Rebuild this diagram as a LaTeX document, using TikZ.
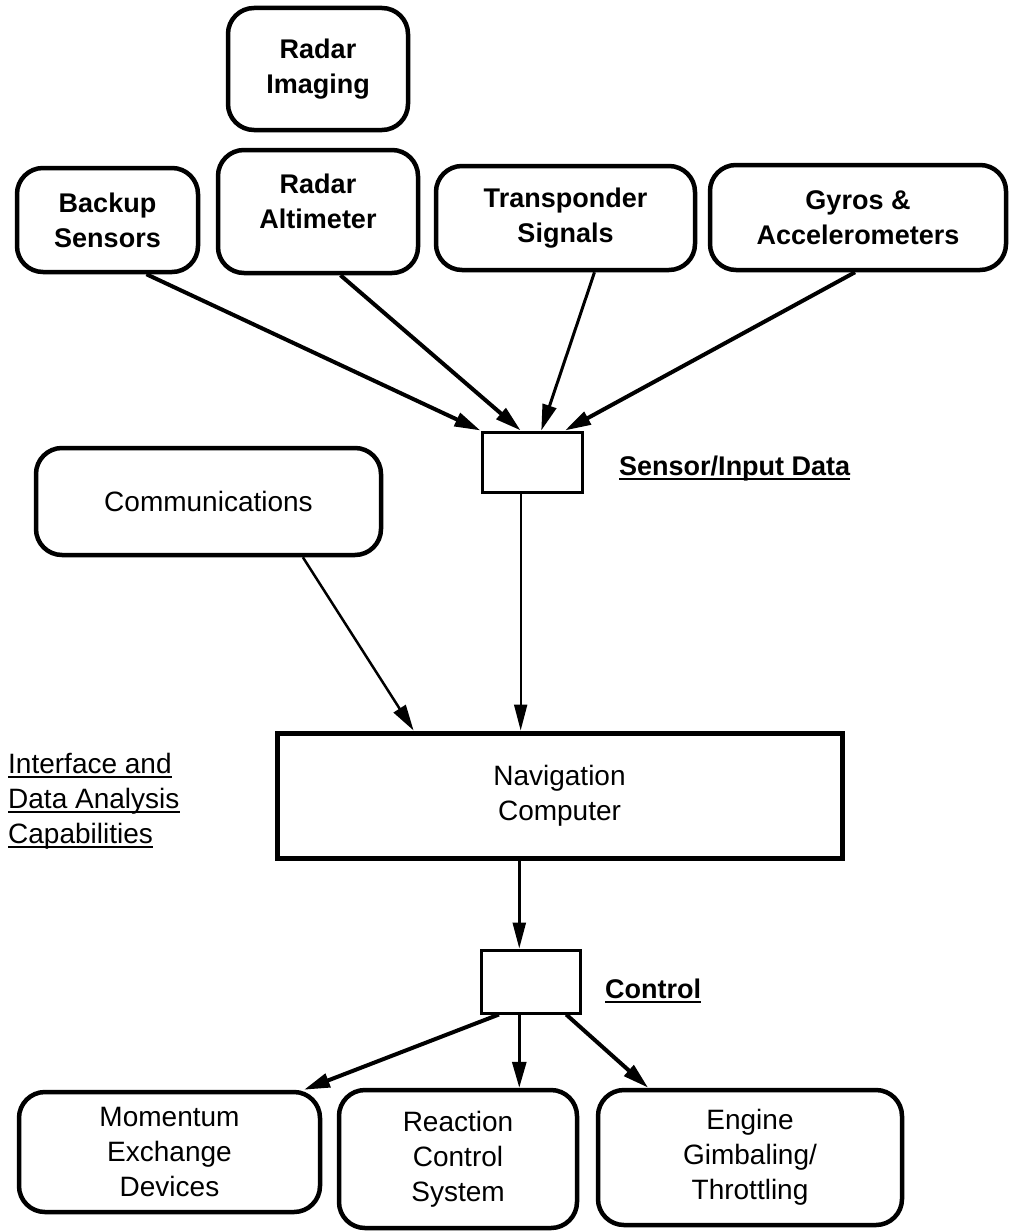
\documentclass[tikz,border=0pt]{standalone}
\usepackage{fontspec}
\setmainfont{Liberation Sans}
\usetikzlibrary{arrows.meta,calc}
\begin{document}
\begin{tikzpicture}[x=1pt,y=-1pt,
  rbox/.style={draw,line width=4.5pt,rounded corners=26pt,align=center,inner sep=0pt},
  topfont/.style={font=\fontsize{27}{35}\selectfont\bfseries},
  regfont/.style={font=\fontsize{28}{35}\selectfont},
  sqbox/.style={draw,line width=3pt,inner sep=0pt},
  lbl/.style={anchor=base west,inner sep=0pt},
  uline/.style={line width=2.5pt},
  arr/.style={line width=4pt,-{Triangle[length=26pt,width=14pt]}},
  tarr/.style={line width=2pt,-{Triangle[length=26pt,width=13pt]}}
]
\useasboundingbox (0,0) rectangle (1010,1231);

% top sensor boxes
\node[rbox,topfont,minimum width=180pt,minimum height=122pt] (img) at (318,69) {Radar\\Imaging};
\node[rbox,topfont,minimum width=181pt,minimum height=104pt] (bak) at (107.5,220) {Backup\\Sensors};
\node[rbox,topfont,minimum width=200pt,minimum height=123pt] (alt) at (318,211.5) {Radar\\Altimeter\\[-15pt]\mbox{}};
\node[rbox,topfont,minimum width=259pt,minimum height=104pt] (trn) at (565.5,218) {Transponder\\Signals};
\node[rbox,topfont,minimum width=296pt,minimum height=105pt] (gyr) at (858,217.5) {Gyros \&\\Accelerometers};

% sensor/input junction
\node[sqbox,minimum width=100pt,minimum height=60pt] (sen) at (532,462) {};
\node[lbl,topfont] (lsen) at (619,475) {Sensor/Input Data};
\draw[uline] ($(lsen.base west)+(0,4)$) -- ($(lsen.base east)+(0,4)$);

% communications
\node[rbox,regfont,minimum width=345pt,minimum height=107pt] (com) at (208.5,501.5) {Communications};

% navigation computer
\node[draw,line width=5pt,regfont,align=center,inner sep=0pt,minimum width=565pt,minimum height=125pt] (nav) at (559.5,795.5) {Navigation\\Computer};

% interface label
\node[lbl,regfont] (int1) at (8,773) {Interface and};
\node[lbl,regfont] (int2) at (8,808) {Data Analysis};
\node[lbl,regfont] (int3) at (8,843) {Capabilities};
\draw[uline] ($(int1.base west)+(0,4)$) -- ($(int1.base east)+(0,4)$);
\draw[uline] ($(int2.base west)+(0,4)$) -- ($(int2.base east)+(0,4)$);
\draw[uline] ($(int3.base west)+(0,4)$) -- ($(int3.base east)+(0,4)$);

% control junction
\node[sqbox,minimum width=99pt,minimum height=63pt] (ctl) at (530.5,981.5) {};
\node[lbl,topfont] (lctl) at (605,998) {Control};
\draw[uline] ($(lctl.base west)+(0,4)$) -- ($(lctl.base east)+(0,4)$);

% actuator boxes
\node[rbox,regfont,minimum width=301pt,minimum height=120pt] (mom) at (169.5,1152) {Momentum\\Exchange\\Devices};
\node[rbox,regfont,minimum width=238pt,minimum height=138pt] (rcs) at (458,1159) {Reaction\\Control\\System};
\node[rbox,regfont,minimum width=304pt,minimum height=135pt] (eng) at (750,1157.5) {Engine\\Gimbaling/\\Throttling};

% connectors: sensors to junction
\draw[arr] ($(bak.south west)!0.71!(bak.south east)$) -- (sen.north west);
\draw[arr] ($(alt.south west)!0.61!(alt.south east)$) -- ($(sen.north west)!0.39!(sen.north east)$);
\draw[arr,line width=3pt] ($(trn.south west)!0.61!(trn.south east)$) -- ($(sen.north west)!0.59!(sen.north east)$);
\draw[arr] ($(gyr.south west)!0.49!(gyr.south east)$) -- ($(sen.north west)!0.82!(sen.north east)$);

% junction to navigation computer
\coordinate (s1) at ($(sen.south west)!0.39!(sen.south east)$);
\draw[tarr] (s1) -- (s1 |- nav.north);
\draw[arr,line width=2.5pt] ($(com.south west)!0.77!(com.south east)$) -- ($(nav.north west)!0.244!(nav.north east)$);

% navigation computer to control
\coordinate (c1) at ($(ctl.north west)!0.39!(ctl.north east)$);
\draw[tarr,line width=2.5pt] (c1 |- nav.south) -- (c1);

% control to actuators
\draw[arr] ($(ctl.south west)!0.19!(ctl.south east)$) -- ($(mom.north west)!0.94!(mom.north east)$);
\coordinate (c2) at ($(ctl.south west)!0.39!(ctl.south east)$);
\draw[arr,line width=3pt] (c2) -- (c2 |- rcs.north);
\draw[arr] ($(ctl.south west)!0.85!(ctl.south east)$) -- ($(eng.north west)!0.17!(eng.north east)$);
\end{tikzpicture}
\end{document}
